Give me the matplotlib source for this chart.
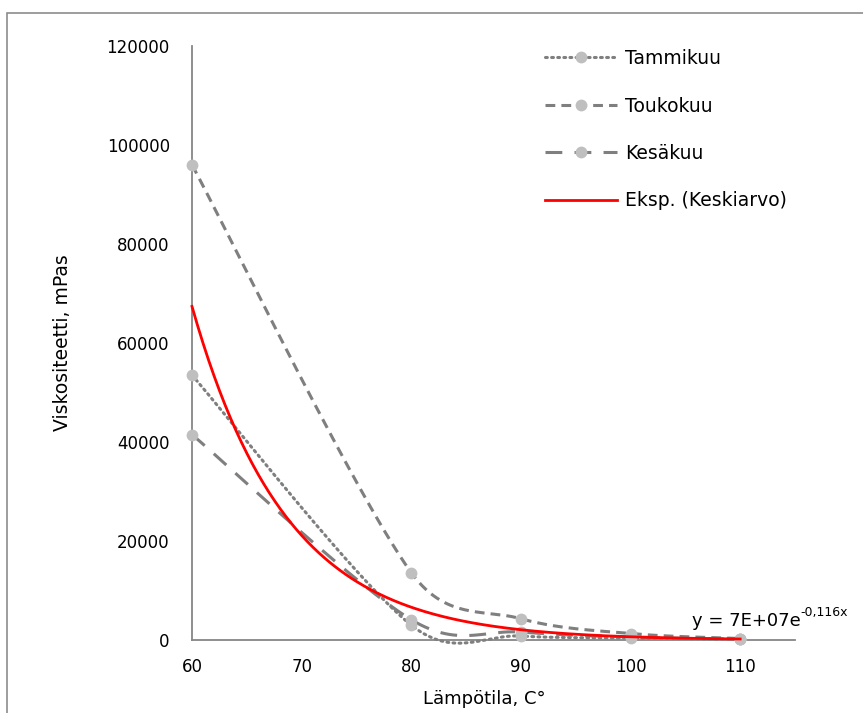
import numpy as np
import matplotlib
matplotlib.use("Agg")
import matplotlib.pyplot as plt
from matplotlib.lines import Line2D
from matplotlib.patches import Rectangle

# data
temps = [60, 80, 90, 100, 110]
tammikuu = [53500, 3000, 800, 400, 200]
toukokuu = [96000, 13600, 4300, 1300, 300]
kesakuu = [41500, 4100, 1600, 600, 150]

# Excel trendline shown in the chart: y = 7E+07 e^(-0,116x)
trend_a = 7.1e7
trend_b = -0.116

x_min, x_max = 60, 115
y_min, y_max = 0, 120000

plt.rcParams['font.family'] = ['DejaVu Sans']

W, H = 863, 713
fig = plt.figure(figsize=(W / 100, H / 100), dpi=100)
ax_left, ax_right, ax_top, ax_bottom = 192, 795, 46, 640
ax = fig.add_axes([ax_left / W, 1 - ax_bottom / H,
                   (ax_right - ax_left) / W, (ax_bottom - ax_top) / H])

# px per data unit, smoothing is done in screen space like Excel does
sx = (ax_right - ax_left) / (x_max - x_min)
sy = (ax_bottom - ax_top) / (y_max - y_min)


def smooth(xs, ys, n=60):
    p = np.column_stack([np.asarray(xs, float) * sx, np.asarray(ys, float) * sy])
    m = len(p)
    out = []
    f = 1 / 6
    for i in range(m - 1):
        p0 = p[i - 1] if i > 0 else p[i]
        p1, p2 = p[i], p[i + 1]
        p3 = p[i + 2] if i + 2 < m else p[i + 1]
        d02 = np.linalg.norm(p2 - p0)
        d12 = np.linalg.norm(p2 - p1)
        d13 = np.linalg.norm(p3 - p1)
        f1 = f if d02 * f < d12 / 2 else d12 / (2 * d02)
        f2 = f if d13 * f < d12 / 2 else d12 / (2 * d13)
        c1 = p1 + (p2 - p0) * f1
        c2 = p2 - (p3 - p1) * f2
        t = np.linspace(0, 1, n)[:, None]
        seg = ((1 - t) ** 3 * p1 + 3 * (1 - t) ** 2 * t * c1
               + 3 * (1 - t) * t ** 2 * c2 + t ** 3 * p2)
        out.append(seg if i == 0 else seg[1:])
    out = np.vstack(out)
    return out[:, 0] / sx, out[:, 1] / sy


line_col = '#7f7f7f'
mark_col = '#bfbfbf'
styles = {
    'Tammikuu': (0, (0.6, 1.4)),
    'Toukokuu': (0, (3.2, 2.0)),
    'Kesäkuu': (0, (5.5, 4.0)),
}
series = [('Tammikuu', tammikuu), ('Toukokuu', toukokuu), ('Kesäkuu', kesakuu)]

handles = []
for name, vals in series:
    cx, cy = smooth(temps, vals)
    ls = styles[name]
    capstyle = 'round' if name == 'Tammikuu' else 'butt'
    ax.plot(cx, cy, color=line_col, lw=2.2, linestyle=ls,
            dash_capstyle=capstyle, clip_on=False, zorder=3)
    ax.plot(temps, vals, 'o', color=mark_col, ms=8.5, mec='none',
            clip_on=False, zorder=4)
    handles.append(Line2D([], [], color=line_col, lw=2.2, linestyle=ls,
                          dash_capstyle=capstyle, marker='o', ms=8.5,
                          mfc=mark_col, mec='none', label=name))

tx = np.linspace(60, 110, 300)
ax.plot(tx, trend_a * np.exp(trend_b * tx), color='#ff0000', lw=2.0,
        zorder=5, clip_on=False)
handles.append(Line2D([], [], color='#ff0000', lw=2.0, label='Eksp. (Keskiarvo)'))

ax.set_xlim(x_min, x_max)
ax.set_ylim(y_min, y_max)
ax.set_xticks([60, 70, 80, 90, 100, 110])
ax.set_yticks(np.arange(0, 120001, 20000))
ax.tick_params(length=0, labelsize=12, colors='black')
ax.tick_params(axis='y', pad=16)
ax.tick_params(axis='x', pad=13)
for s in ['top', 'right']:
    ax.spines[s].set_visible(False)
for s in ['left', 'bottom']:
    ax.spines[s].set_color('#868686')
    ax.spines[s].set_linewidth(1.3)

ax.set_xlabel('Lämpötila, C°', fontsize=13)
ax.set_ylabel('Viskositeetti, mPas', fontsize=13.5)
ax.xaxis.set_label_coords((484 - ax_left) / (ax_right - ax_left),
                          -(690 - ax_bottom) / (ax_bottom - ax_top))
ax.yaxis.set_label_coords(-(192 - 72) / (ax_right - ax_left), 0.5)

eq = ax.text(105.6, 2900, 'y = 7E+07e', fontsize=13, va='baseline', ha='left')
ax.annotate('-0,116x', xy=(1, 0.6), xycoords=eq, fontsize=9,
            va='bottom', ha='left')

fig.legend(handles=handles, loc='upper left', bbox_to_anchor=(545 / W, 1 - 49 / H),
           frameon=False, fontsize=13.5, handlelength=3.85, handletextpad=0.4,
           labelspacing=1.52, borderpad=0, borderaxespad=0, numpoints=1)

# outer chart frame (cut off by the picture edge on the right and bottom)
fig.patches.append(Rectangle((7 / W, -0.1), 1.2, 1.1 - 13 / H,
                             transform=fig.transFigure, fill=False,
                             ec='#8c8c8c', lw=1.2))

fig.savefig('out.png', dpi=100)
